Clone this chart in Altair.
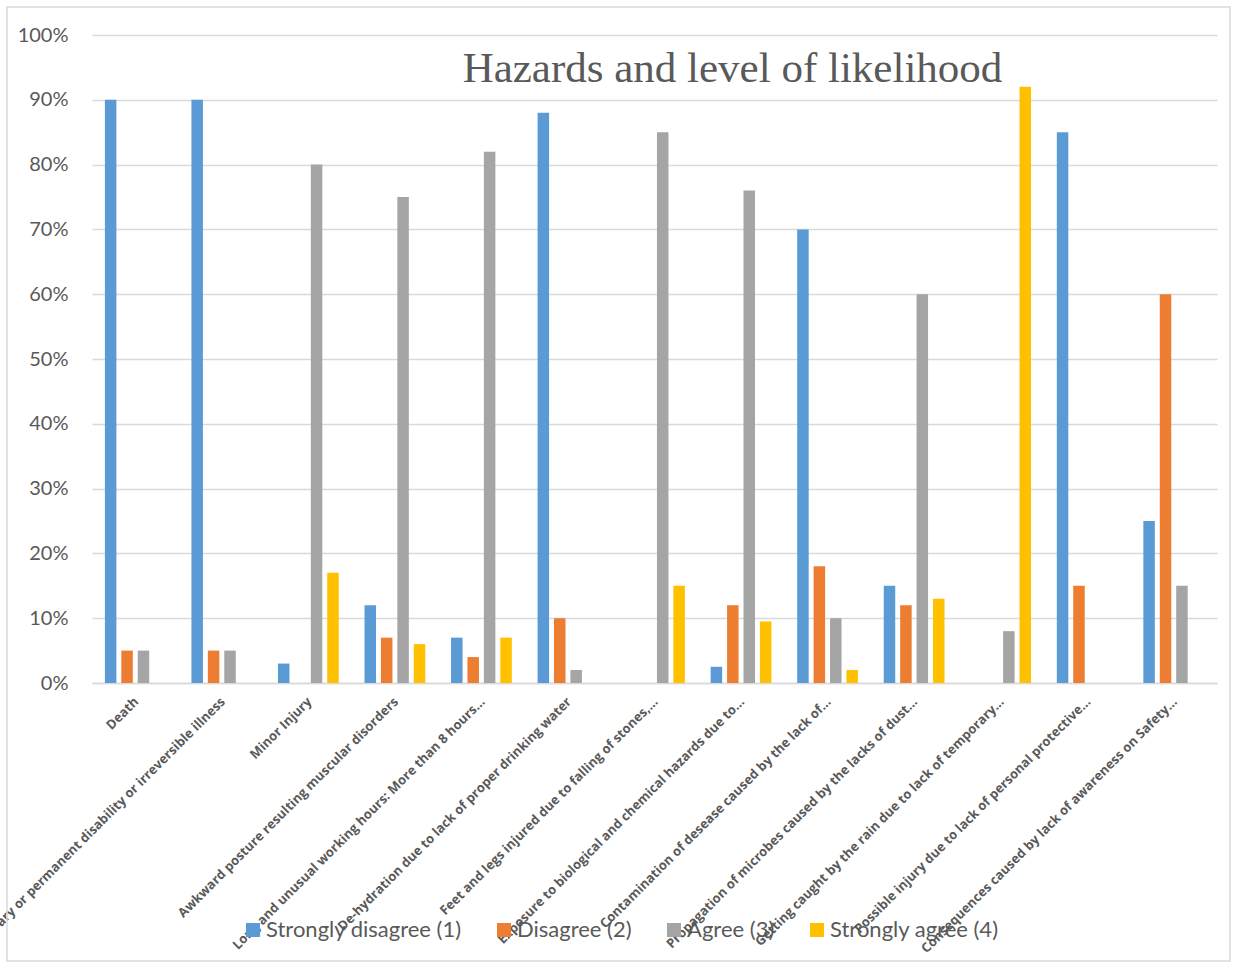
import altair as alt
import pandas as pd

# Hazard categories (x axis, in display order)
hazards = [
    "Death",
    "Temporary or permanent disability or irreversible illness",
    "Minor Injury",
    "Awkward posture resulting muscular disorders",
    "Long and unusual working hours: More than 8 hours…",
    "De-hydration due to lack of proper drinking water",
    "Feet and legs injured due to falling of stones,…",
    "Exposure to biological and chemical hazards due to…",
    "Contamination of desease caused by the lack of…",
    "Propagation of microbes caused by the lacks of dust…",
    "Getting caught by the rain due to lack of temporary…",
    "Possible injury due to lack of personal protective…",
    "Consequences caused by lack of awareness on Safety…",
]

levels = ["Strongly disagree (1)", "Disagree (2)", "Agree (3)", "Strongly agree (4)"]
colors = ["#5B9BD5", "#ED7D31", "#A5A5A5", "#FFC000"]

# Share of respondents (%) per hazard for each likelihood level
strongly_disagree = [90, 90, 3, 12, 7, 88, 0, 2.5, 70, 15, 0, 85, 25]
disagree = [5, 5, 0, 7, 4, 10, 0, 12, 18, 12, 0, 15, 60]
agree = [5, 5, 80, 75, 82, 2, 85, 76, 10, 60, 8, 0, 15]
strongly_agree = [0, 0, 17, 6, 7, 0, 15, 9.5, 2, 13, 92, 0, 0]

series = [strongly_disagree, disagree, agree, strongly_agree]
rows = []
for level, vals in zip(levels, series):
    for hazard, v in zip(hazards, vals):
        rows.append({"hazard": hazard, "level": level, "pct": v})
df = pd.DataFrame(rows)

FONT = "Lato"
GREY = "#595959"

bars = (
    alt.Chart(df)
    .transform_calculate(share="datum.pct / 100")
    .mark_bar()
    .encode(
        x=alt.X(
            "hazard:N",
            sort=hazards,
            title=None,
            scale=alt.Scale(paddingInner=0, paddingOuter=0),
            axis=alt.Axis(
                labelAngle=-45,
                labelFont="Open Sans",
                labelFontSize=13,
                labelFontWeight="bold",
                labelColor=GREY,
                labelLimit=1000,
                labelPadding=12,
                labelOffset=-3,
                ticks=False,
                domainColor="#D9D9D9",
                domainWidth=1.5,
                grid=False,
            ),
        ),
        xOffset=alt.XOffset(
            "level:N",
            sort=levels,
            scale=alt.Scale(paddingInner=0.3, paddingOuter=0.785),
        ),
        y=alt.Y(
            "share:Q",
            title=None,
            scale=alt.Scale(domain=[0, 1], nice=False),
            axis=alt.Axis(
                format=".0%",
                values=[i / 10 for i in range(11)],
                labelFont=FONT,
                labelFontSize=20,
                labelColor=GREY,
                labelPadding=24,
                ticks=False,
                domain=False,
                gridColor="#D9D9D9",
                gridWidth=1.5,
            ),
        ),
        color=alt.Color(
            "level:N",
            sort=levels,
            scale=alt.Scale(domain=levels, range=colors),
            legend=alt.Legend(
                title=None,
                orient="none",
                legendX=150,
                legendY=884,
                direction="horizontal",
                columns=4,
                symbolType="square",
                symbolSize=196,
                symbolStrokeWidth=0,
                labelFont=FONT,
                labelFontSize=22,
                labelColor=GREY,
                labelLimit=1000,
                labelOffset=2,
                columnPadding=31,
            ),
        ),
    )
)

# Light frame around the whole chart area
frame = (
    alt.Chart(pd.DataFrame({"k": [0]}))
    .mark_rect(fill=None, stroke="#D9D9D9", strokeWidth=1.5)
    .encode(
        x=alt.value(-85),
        x2=alt.value(1138),
        y=alt.value(-28),
        y2=alt.value(926),
    )
)

chart = (
    alt.layer(bars, frame)
    .properties(
        width=1125,
        height=648,
        padding={"left": 92, "top": 35, "right": 17, "bottom": 281},
        autosize=alt.AutoSizeParams(type="none"),
        title=alt.TitleParams(
            "Hazards and level of likelihood",
            font="Liberation Serif",
            fontSize=43,
            fontWeight="normal",
            color=GREY,
            anchor="middle",
            frame="group",
            dx=78,
            dy=89,
        ),
        background="white",
    )
    .configure_view(stroke=None)
)

chart.save("out.html", embed_options={"renderer": "svg", "actions": False})
